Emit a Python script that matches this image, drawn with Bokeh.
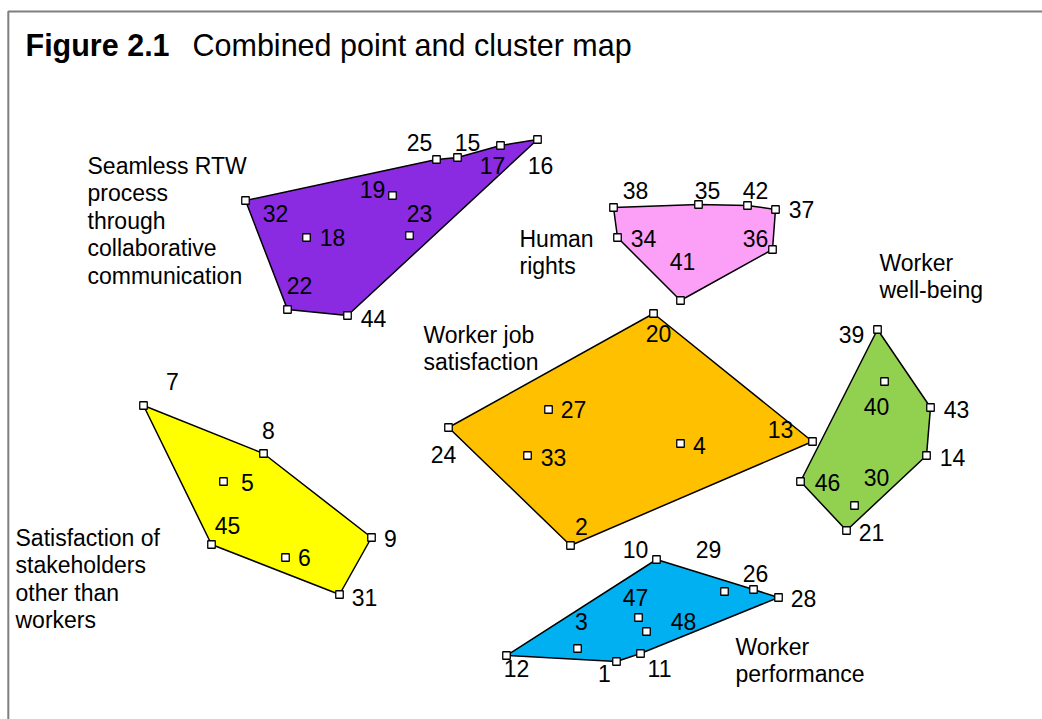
from bokeh.plotting import figure
from bokeh.models import ColumnDataSource, Range1d, Label
from bokeh.embed import file_html
from bokeh.resources import INLINE
from bokeh.core.properties import value

# ---------------- data: point map coordinates ----------------
point_ids = list(range(1, 49))
point_x = [616, 570, 577, 680, 223, 285, 143, 263, 371, 656,
           640, 506, 812, 926, 457, 537, 500, 306, 392, 653,
           846, 287, 409, 448, 436, 753, 548, 778, 724, 854,
           339, 245, 527, 617, 698, 772, 775, 613, 877, 884,
           680, 747, 930, 347, 211, 800, 638, 646]
point_y = [58, 174, 71, 276, 238, 162, 314, 266, 182, 160,
           66, 64, 278, 264, 562, 580, 574, 482, 524, 406,
           189, 410, 484, 292, 560, 130, 310, 122, 128, 214,
           125, 519, 264, 482, 515, 470, 510, 512, 390, 338,
           419, 514, 312, 404, 175, 238, 102, 88]

# clusters: name, hull points (in order), fill colour
cluster_names = ["Worker well-being",
                 "Seamless RTW process through collaborative communication",
                 "Human rights",
                 "Worker job satisfaction",
                 "Satisfaction of stakeholders other than workers",
                 "Worker performance"]
cluster_hulls = [[39, 43, 14, 21, 46],
                 [32, 25, 15, 17, 16, 44, 22],
                 [38, 35, 42, 37, 36, 41, 34],
                 [20, 13, 2, 24],
                 [7, 8, 9, 31, 45],
                 [10, 26, 28, 11, 1, 12]]
cluster_colors = ["#92D050", "#8A2BE2", "#FBA0F6", "#FFC000", "#FFFF00", "#00B0F0"]

# label text lines of each cluster name, as printed
cluster_lines = [["Worker", "well-being"],
                 ["Seamless RTW", "process", "through", "collaborative", "communication"],
                 ["Human", "rights"],
                 ["Worker job", "satisfaction"],
                 ["Satisfaction of", "stakeholders", "other than", "workers"],
                 ["Worker", "performance"]]

# ---------------- layout (pixels) ----------------
# offsets of number labels from their points (dx right, dy down)
label_offsets = {1: (-12, 12), 2: (11, -19), 3: (4, -27), 4: (19, 2), 5: (24, 1),
                 6: (19, 0), 7: (29, -24), 8: (5, -23), 9: (19, 1), 10: (-21, -10),
                 11: (19, 15), 12: (10, 13), 13: (-32, -12), 14: (26, 2), 15: (10, -15),
                 16: (3, 26), 17: (-8, 20), 18: (26, 0), 19: (-20, -6), 20: (5, 20),
                 21: (25, 2), 22: (12, -24), 23: (10, -22), 24: (-5, 27), 25: (-17, -17),
                 26: (2, -16), 27: (25, 0), 28: (25, 1), 29: (-16, -42), 30: (22, -28),
                 31: (25, 3), 32: (30, 13), 33: (26, 2), 34: (26, 1), 35: (9, -14),
                 36: (-17, -11), 37: (26, 0), 38: (22, -17), 39: (-26, 5), 40: (-8, 25),
                 41: (2, -39), 42: (8, -15), 43: (26, 2), 44: (26, 3), 45: (16, -19),
                 46: (27, 1), 47: (-3, -20), 48: (37, -10)}
# name block anchors: left x, centre of first line (y down from top of image)
name_anchor = [(879, 262), (87, 165), (519, 238), (423, 334), (15, 537), (735, 646)]
LINE_STEP = 27.5
FONT = "Liberation Sans"
FS = 23
W, H = 1042, 719  # y map coordinate = H - pixel row

p = figure(width=W, height=H, output_backend="svg", toolbar_location=None,
           x_range=Range1d(0, W), y_range=Range1d(0, H),
           min_border=0, outline_line_color=None)
p.xaxis.visible = False
p.yaxis.visible = False
p.xgrid.visible = False
p.ygrid.visible = False
p.background_fill_color = "white"
p.border_fill_color = "white"

# frame of the figure
p.line(x=[7.8, 7.8, W + 5], y=[-5, H - 11, H - 11], line_color="#7F7F7F", line_width=2)

idx = {pid: i for i, pid in enumerate(point_ids)}
xs = [[point_x[idx[k]] for k in hull] for hull in cluster_hulls]
ys = [[point_y[idx[k]] for k in hull] for hull in cluster_hulls]
p.patches(xs=xs, ys=ys, fill_color=cluster_colors, line_color="black", line_width=1.5)

src = ColumnDataSource(dict(
    x=point_x, y=point_y,
    lx=[point_x[i] + label_offsets[pid][0] for i, pid in enumerate(point_ids)],
    ly=[point_y[i] - label_offsets[pid][1] for i, pid in enumerate(point_ids)],
    txt=[str(pid) for pid in point_ids]))

p.scatter(x="x", y="y", source=src, marker="square", size=7.5,
          fill_color="white", line_color="black", line_width=1.3)

p.text(x="lx", y="ly", text="txt", source=src, text_font=value(FONT),
       text_font_size=f"{FS}px", text_align="center", text_baseline="alphabetic",
       text_color="black")

for lines, (ax, ay) in zip(cluster_lines, name_anchor):
    for j, line in enumerate(lines):
        p.add_layout(Label(x=ax, y=H - (ay + j * LINE_STEP), text=line,
                           text_font=FONT, text_font_size=f"{FS}px",
                           text_align="left", text_baseline="alphabetic",
                           text_color="black"))

p.add_layout(Label(x=25, y=H - 44, text="Figure 2.1", text_font=FONT,
                   text_font_size="30.5px", text_font_style="bold",
                   text_align="left", text_baseline="alphabetic", text_color="black"))
p.add_layout(Label(x=192, y=H - 44, text="Combined point and cluster map", text_font=FONT,
                   text_font_size="30.5px", text_align="left", text_baseline="alphabetic",
                   text_color="black"))

open("out.html", "w").write(file_html(p, INLINE))
